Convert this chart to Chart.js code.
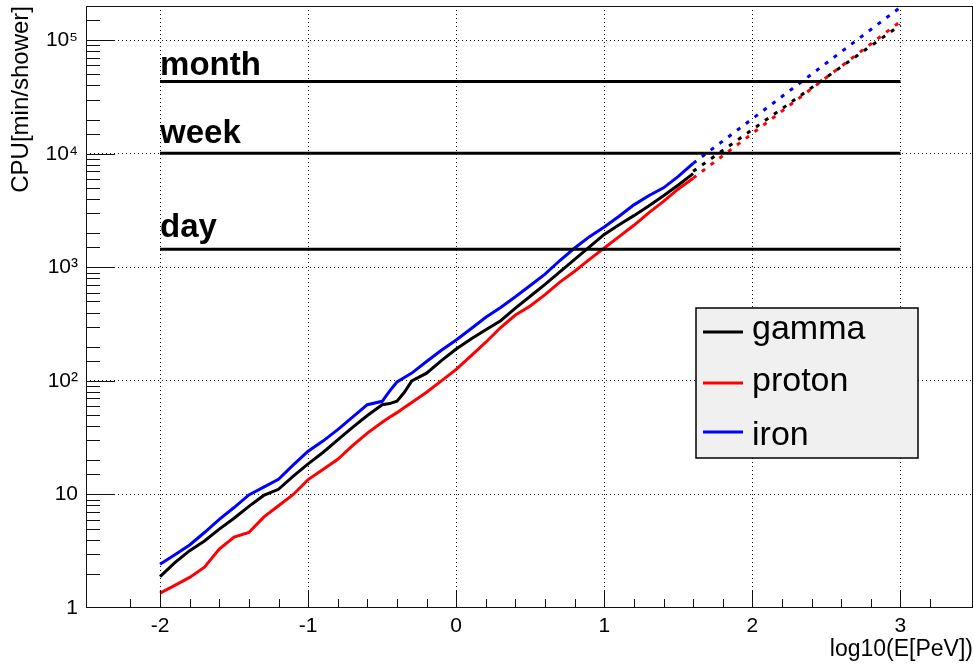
<!DOCTYPE html>
<html><head><meta charset="utf-8">
<script src="https://cdn.jsdelivr.net/npm/chart.js@4/dist/chart.umd.min.js"></script>
<style>html,body{margin:0;padding:0;background:#fff}canvas{display:block}</style>
</head><body>
<canvas id="c" width="974" height="666"></canvas>
<script>
// ---- data ----
const logE = [-2.0,-1.9,-1.8,-1.7,-1.6,-1.5,-1.4,-1.3,-1.2,-1.1,-1.0,-0.9,-0.8,-0.7,-0.6,-0.5,-0.45,-0.4,-0.35,-0.3,-0.2,-0.1,0.0,0.1,0.2,0.3,0.4,0.5,0.6,0.7,0.8,0.9,1.0,1.1,1.2,1.3,1.4,1.5,1.6];
const gamma  = [1.89,2.51,3.20,3.89,4.95,6.17,7.85,9.8,11.1,14.5,18.6,23.4,30.2,38.9,49.5,61.7,63.1,66.1,79.4,100,117,151,191,234,282,339,437,556,708,912,1175,1514,1950,2371,2851,3467,4266,5309,6683];
const proton = [1.35,1.58,1.86,2.29,3.31,4.22,4.62,6.31,7.94,10.0,13.5,16.6,20.4,26.9,34.7,43.2,47.9,52.5,58.2,64.6,79.4,100,126,166,219,295,380,457,575,741,923,1175,1479,1862,2344,3020,3802,4898,6095];
const iron   = [2.43,2.95,3.59,4.62,6.03,7.67,9.9,11.6,13.6,18.2,24.0,29.5,37.2,47.9,61.7,66.1,81.3,97.7,107,117,148,186,229,288,363,442,550,692,871,1148,1479,1862,2265,2818,3548,4266,5012,6310,8222];
// dotted extrapolations
const gammaFitE  = [1.6, 3.0];  const gammaFit  = [7000, 136000];
const protonFitE = [1.6, 3.0];  const protonFit = [6095, 146000];
const ironFitE   = [1.6, 3.0];  const ironFit   = [8222, 195000];
// reference durations [min/shower]
const refNames  = ['day', 'week', 'month'];
const refValues = [1440, 10080, 43200];
const refLabelValues = [1850, 12400, 49300];
const refE = [-2, 3];
// tick labels
const xTickValues = [-2, -1, 0, 1, 2, 3];
const xTickLabels = ['-2', '-1', '0', '1', '2', '3'];
const yTickValues = [1, 10, 100, 1000, 10000, 100000];
const yTickLabels = ['1', '10', '10\u00B2', '10\u00B3', '10\u2074', '10\u2075'];

const FONT = '"Liberation Sans", Arial, Helvetica, sans-serif';
Chart.defaults.font.family = FONT;
Chart.defaults.color = '#000';

const pts = (xs, ys) => xs.map((x, i) => ({x, y: ys[i]}));
const near = (a, b) => Math.abs(a - b) < 1e-6 * Math.max(1, Math.abs(b));
const isXMajor = v => xTickValues.some(t => near(v, t));
const isYMajor = v => yTickValues.some(t => near(v, t));

const datasets = [];
refValues.forEach((v, i) => datasets.push({
  label: refNames[i], data: pts(refE, [v, v]), borderColor: '#000', borderWidth: 3, pointRadius: 0
}));
datasets.push(
  {label: 'gamma', legendEntry: true, data: pts(logE, gamma), borderColor: '#000000', borderWidth: 3, pointRadius: 0},
  {label: 'proton', legendEntry: true, data: pts(logE, proton), borderColor: '#ff0000', borderWidth: 3, pointRadius: 0},
  {label: 'iron', legendEntry: true, data: pts(logE, iron), borderColor: '#0000ff', borderWidth: 3, pointRadius: 0},
  {label: 'gamma fit', data: pts(gammaFitE, gammaFit), borderColor: '#000000', borderWidth: 3, borderDash: [4, 7], pointRadius: 0},
  {label: 'proton fit', data: pts(protonFitE, protonFit), borderColor: '#ff0000', borderWidth: 3, borderDash: [4, 7], pointRadius: 0},
  {label: 'iron fit', data: pts(ironFitE, ironFit), borderColor: '#0000ff', borderWidth: 3, borderDash: [4, 7], pointRadius: 0}
);

const frameTicks = {
  id: 'frameTicks',
  afterDatasetsDraw(chart) {
    const {ctx, chartArea: a, scales: {x, y}} = chart;
    ctx.save();
    ctx.strokeStyle = '#111';
    ctx.lineWidth = 1;
    ctx.beginPath();
    y.ticks.forEach(t => {
      const v = t.value;
      if (v <= y.min * 1.0001 || v >= y.max * 0.9999) return;
      const py = Math.round(y.getPixelForValue(v)) + 0.5;
      ctx.moveTo(a.left, py);
      ctx.lineTo(a.left + (isYMajor(v) ? 29 : 14), py);
    });
    x.ticks.forEach(t => {
      const v = t.value;
      if (v <= x.min + 1e-6 || v >= x.max - 1e-6) return;
      const px = Math.round(x.getPixelForValue(v)) + 0.5;
      ctx.moveTo(px, a.bottom);
      ctx.lineTo(px, a.bottom - (isXMajor(v) ? 18 : 9));
    });
    ctx.stroke();
    ctx.strokeRect(a.left + 0.5, a.top + 0.5, a.right - a.left - 1, a.bottom - a.top - 1);
    ctx.restore();
  }
};

const refText = {
  id: 'refText',
  afterDatasetsDraw(chart) {
    const {ctx, scales: {x, y}} = chart;
    ctx.save();
    ctx.font = 'bold 33px ' + FONT;
    ctx.fillStyle = '#000';
    ctx.textBaseline = 'alphabetic';
    ctx.textAlign = 'left';
    refNames.forEach((s, i) => {
      ctx.fillText(s, x.getPixelForValue(refE[0]), y.getPixelForValue(refLabelValues[i]));
    });
    ctx.restore();
  }
};

const legendBox = {
  id: 'legendBox',
  afterDatasetsDraw(chart) {
    const {ctx} = chart;
    const L = 696, T = 308, W = 222, H = 150;
    ctx.save();
    ctx.fillStyle = '#f0f0f0';
    ctx.fillRect(L, T, W, H);
    ctx.strokeStyle = '#000';
    ctx.lineWidth = 1.5;
    ctx.strokeRect(L, T, W, H);
    const lineY = [24, 75, 124];
    const textY = [31, 83, 137];
    chart.data.datasets.filter(d => d.legendEntry).forEach((d, i) => {
      ctx.strokeStyle = d.borderColor;
      ctx.lineWidth = 3;
      ctx.beginPath();
      ctx.moveTo(L + 7, T + lineY[i]);
      ctx.lineTo(L + 47, T + lineY[i]);
      ctx.stroke();
      ctx.fillStyle = '#000';
      ctx.font = '34px ' + FONT;
      ctx.textBaseline = 'alphabetic';
      ctx.textAlign = 'left';
      ctx.fillText(d.label, L + 56, T + textY[i]);
    });
    ctx.restore();
  }
};

function noPad(s) { s.paddingTop = 0; s.paddingBottom = 0; s.paddingLeft = 0; s.paddingRight = 0; }

new Chart(document.getElementById('c'), {
  type: 'line',
  data: {datasets},
  plugins: [frameTicks, refText, legendBox],
  options: {
    responsive: false,
    animation: false,
    devicePixelRatio: 1,
    layout: {padding: {top: 6, right: 1, left: 0, bottom: 0}},
    plugins: {legend: {display: false}, tooltip: {enabled: false}},
    elements: {point: {radius: 0}, line: {tension: 0}},
    scales: {
      x: {
        type: 'linear', min: -2.5, max: 3.49,
        afterFit(s) { s.height = 58; noPad(s); },
        ticks: {
          stepSize: 0.2, autoSkip: false, maxRotation: 0, minRotation: 0, padding: 6,
          font: {size: 21}, color: '#000',
          callback(v) { const i = xTickValues.findIndex(t => near(v, t)); return i >= 0 ? xTickLabels[i] : ''; }
        },
        grid: {drawTicks: false, lineWidth: 1,
          color: c => (c.tick && isXMajor(c.tick.value)) ? '#111' : 'rgba(0,0,0,0)'},
        border: {display: false, dash: [1, 3]},
        title: {display: true, text: 'log10(E[PeV])', align: 'end', color: '#000',
          font: {size: 23}, padding: {top: 0, bottom: 3}}
      },
      y: {
        type: 'logarithmic', min: 1, max: 200000,
        afterFit(s) { s.width = 86; noPad(s); },
        ticks: {
          autoSkip: false, padding: 8, font: {size: 21}, color: '#000',
          callback(v) { const i = yTickValues.findIndex(t => near(v, t)); return i >= 0 ? yTickLabels[i] : ''; }
        },
        grid: {drawTicks: false, lineWidth: 1,
          color: c => (c.tick && isYMajor(c.tick.value) && c.tick.value > 1) ? '#111' : 'rgba(0,0,0,0)'},
        border: {display: false, dash: [1, 3]},
        title: {display: true, text: 'CPU[min/shower]', align: 'end', color: '#000',
          font: {size: 24}, padding: {top: 7, bottom: 0}}
      }
    }
  }
});
</script>
</body></html>
